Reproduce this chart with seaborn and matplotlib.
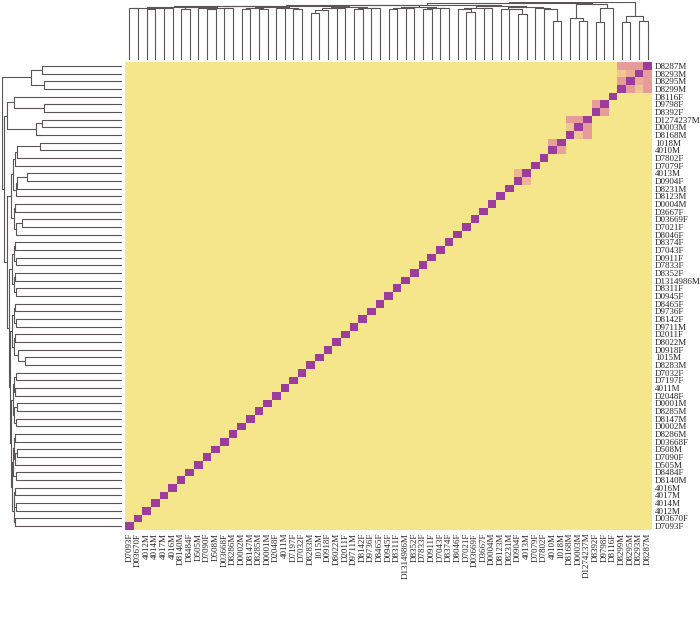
import numpy as np
import pandas as pd
import matplotlib
matplotlib.use("Agg")
import matplotlib.pyplot as plt
from matplotlib.colors import LinearSegmentedColormap
import seaborn as sns

# ---------------- data ----------------
row_labels = [
    "D8287M", "D8293M", "D8295M", "D8299M", "D8116F", "D9798F", "D8392F",
    "D1274237M", "D0003M", "D8168M", "1018M", "4010M", "D7802F", "D7079F",
    "4013M", "D0904F", "D8231M", "D8123M", "D0004M", "D3667F", "D03669F",
    "D7021F", "D8046F", "D8374F", "D7043F", "D0911F", "D7833F", "D8352F",
    "D1314986M", "D8311F", "D0945F", "D8465F", "D9736F", "D8142F", "D9711M",
    "D2011F", "D8022M", "D0918F", "1015M", "D8283M", "D7032F", "D7197F",
    "4011M", "D2048F", "D0001M", "D8285M", "D8147M", "D0002M", "D8286M",
    "D03668F", "D508M", "D7090F", "D505M", "D8484F", "D8140M", "4016M",
    "4017M", "4014M", "4012M", "D03670F", "D7093F",
]
col_labels = row_labels[::-1]

# off-diagonal similarities (symmetric); diagonal = 1, all others = 0
pair_a = ["D8287M", "D8287M", "D8287M", "D8293M", "D8293M", "D8295M",
          "D9798F", "D1274237M", "D1274237M", "D0003M", "1018M", "4013M"]
pair_b = ["D8293M", "D8295M", "D8299M", "D8295M", "D8299M", "D8299M",
          "D8392F", "D0003M", "D8168M", "D8168M", "4010M", "D0904F"]
pair_val = [0.52, 0.52, 0.52, 0.45, 0.35, 0.52,
            0.52, 0.52, 0.52, 0.35, 0.50, 0.42]

# dendrogram (same tree for rows and columns), leaves = row index, (left, right, height)
grp_A = (((0, 1, .66), (2, 3, .64), .75))
grp_B = (4, (5, 6, .64), .89)
grp_C = ((7, 8, .66), 9, .71)
grp_D = (((10, 11, .67), 12, .86), 13, .875)
grp_E = (((14, 15, .78), 16, .86), 17, .87)
grp_F = (18, 19, .875)
grp_G = ((20, 21, .82), 22, .87)
grp_H = (23, 24, .875)
grp_I = (25, 26, .87)
grp_J = (27, 28, .875)
grp_K = (29, 30, .87)
grp_L = (31, 32, .875)
grp_M = (33, 34, .87)
grp_N = (35, 36, .875)
grp_O = (37, (38, 39, .80), .85)
grp_P = (40, 41, .87)
grp_Q = (42, 43, .875)
grp_R = (44, 45, .865)
grp_S = (46, 47, .87)
grp_T = (48, 49, .875)
grp_U = ((50, 51, .86), 52, .875)
grp_V = (53, 54, .87)
grp_W = (55, 56, .875)
grp_X = (57, 58, .87)
grp_Y = (59, 60, .875)
chain_R2 = (
    ((grp_D, grp_E, .895), (grp_F, grp_G, .89), .915),
    (((grp_H, grp_I, .885), (grp_J, grp_K, .888), .905),
     (((grp_L, grp_M, .885), (grp_N, grp_O, .89), .90),
      (((grp_P, grp_Q, .885), (grp_R, grp_S, .886), .898),
       (((grp_T, grp_U, .888), grp_V, .893), ((grp_W, grp_X, .885), grp_Y, .89), .902),
       .91),
      .92),
     .93),
    .94)
tree = (grp_A, ((grp_B, grp_C, .945), chain_R2, .965), .985)

# ---------------- build matrix ----------------
n = len(row_labels)
mat = pd.DataFrame(np.eye(n), index=row_labels, columns=row_labels)
for a, b, v in zip(pair_a, pair_b, pair_val):
    mat.loc[a, b] = v
    mat.loc[b, a] = v
mat = mat.loc[row_labels, col_labels]

cmap = LinearSegmentedColormap.from_list(
    "ylpk", [(0.0, "#f5e68c"), (0.35, "#efc690"), (0.5, "#e9a09a"), (1.0, "#9c3c9c")])

# ---------------- figure ----------------
sns.set_style("white")
plt.rcParams["font.family"] = ["Liberation Serif", "DejaVu Serif"]

fig = plt.figure(figsize=(7.0, 6.32), dpi=100)
W, H = 700.0, 632.0
hx0, hx1, hy0, hy1 = 125, 652, 62, 530
ax_h = fig.add_axes([hx0 / W, 1 - hy1 / H, (hx1 - hx0) / W, (hy1 - hy0) / H])
ax_r = fig.add_axes([2 / W, 1 - hy1 / H, (hx0 - 3 - 2) / W, (hy1 - hy0) / H])
ax_c = fig.add_axes([hx0 / W, 1 - (hy0 - 2) / H, (hx1 - hx0) / W, (hy0 - 4) / H])

sns.heatmap(mat, ax=ax_h, cmap=cmap, vmin=0, vmax=1, cbar=False,
            xticklabels=True, yticklabels=True, linewidths=0)
ax_h.yaxis.tick_right()
ax_h.tick_params(axis="both", length=0, pad=2, labelsize=6.5)
ax_h.set_yticklabels(row_labels, rotation=0, fontsize=6.5)
ax_h.set_xticklabels(col_labels, rotation=90, fontsize=6.5)
ax_h.set_xlabel("")
ax_h.set_ylabel("")

# dendrogram layout
segs = []


def layout(node):
    if isinstance(node, int):
        return node + 0.5, 0.0
    left, right, h = node
    p1, h1 = layout(left)
    p2, h2 = layout(right)
    segs.append(([p1, p1, p2, p2], [h1, h, h, h2]))
    return (p1 + p2) / 2.0, h


layout(tree)
root_h = tree[2]
lc = "#5b5555"

for ps, hs in segs:
    ax_r.plot(hs, ps, color=lc, lw=0.8, solid_capstyle="butt")
    ax_c.plot([n - p for p in ps], hs, color=lc, lw=0.8, solid_capstyle="butt")

ax_r.set_ylim(n, 0)
ax_r.set_xlim(root_h, 0)
ax_c.set_xlim(0, n)
ax_c.set_ylim(0, root_h)
for ax in (ax_r, ax_c):
    ax.set_axis_off()

fig.savefig("out.png", dpi=100, facecolor="white")
